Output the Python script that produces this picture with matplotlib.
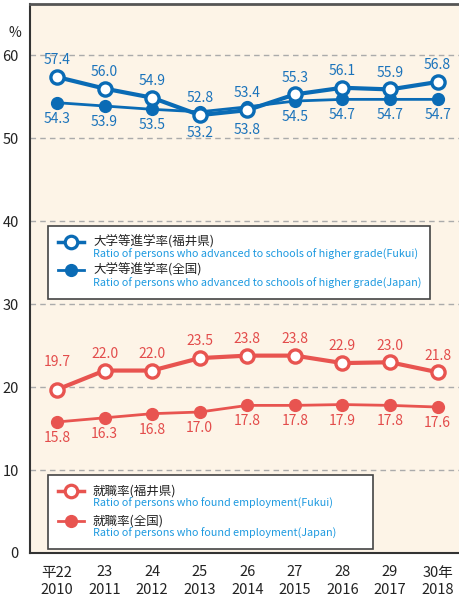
import matplotlib
matplotlib.use("Agg")
import matplotlib.pyplot as plt
from matplotlib.patches import Rectangle
from matplotlib.lines import Line2D

plt.rcParams['font.family'] = ['Noto Sans CJK JP', 'DejaVu Sans']

years_jp = ["平22", "23", "24", "25", "26", "27", "28", "29", "30年"]
years_ad = ["2010", "2011", "2012", "2013", "2014", "2015", "2016", "2017", "2018"]
univ_fukui = [57.4, 56.0, 54.9, 52.8, 53.4, 55.3, 56.1, 55.9, 56.8]
univ_japan = [54.3, 53.9, 53.5, 53.2, 53.8, 54.5, 54.7, 54.7, 54.7]
emp_fukui = [19.7, 22.0, 22.0, 23.5, 23.8, 23.8, 22.9, 23.0, 21.8]
emp_japan = [15.8, 16.3, 16.8, 17.0, 17.8, 17.8, 17.9, 17.8, 17.6]
legend1 = [("大学等進学率(福井県)", "Ratio of persons who advanced to schools of higher grade(Fukui)"),
           ("大学等進学率(全国)", "Ratio of persons who advanced to schools of higher grade(Japan)")]
legend2 = [("就職率(福井県)", "Ratio of persons who found employment(Fukui)"),
           ("就職率(全国)", "Ratio of persons who found employment(Japan)")]
yticks = [0, 10, 20, 30, 40, 50, 60]

# label offsets (points) – styling only
off_univ_fukui = [12] * 9
off_univ_japan = [-11.5, -11.5, -11.5, -15.5, -17, -11.5, -11.5, -11.5, -11.5]
off_emp_fukui = [20] + [12] * 8
off_emp_japan = [-11.5] * 9

BLUE = '#0a6bb5'
BLUE_T = '#1b73bb'
LBLUE = '#1e9ae0'
RED = '#e85450'
RED_T = '#e34c4b'
BG = '#fdf4e7'

W, H = 460, 599
fig = plt.figure(figsize=(W / 100, H / 100), dpi=100)
ax = fig.add_axes([30 / W, (H - 553) / H, 430 / W, 549 / H])
ax.set_facecolor(BG)
x = list(range(len(years_ad)))
ax.set_xlim(-0.567, 8.47)
ax.set_ylim(0, 66.2)

for y in yticks[1:]:
    ax.axhline(y, color='#ababab', lw=1.0, ls=(0, (4, 3)), zorder=1)

def series(vals, offs, color, tcolor, filled, lw, ms):
    ax.plot(x, vals, color=color, lw=lw, zorder=3,
            marker='o', ms=ms, mfc=color if filled else 'white',
            mec=color, mew=2.4 if not filled else 1, solid_joinstyle='round')
    for xi, v, o in zip(x, vals, offs):
        ax.annotate(f"{v:.1f}", (xi, v), xytext=(0, o),
                    textcoords='offset points', ha='center',
                    va='center', color=tcolor, fontsize=10, zorder=4)

series(univ_japan, off_univ_japan, BLUE, BLUE_T, True, 2.0, 8.5)
series(univ_fukui, off_univ_fukui, BLUE, BLUE_T, False, 3.0, 9.5)
series(emp_japan, off_emp_japan, RED, RED_T, True, 2.0, 8.5)
series(emp_fukui, off_emp_fukui, RED, RED_T, False, 3.0, 9.5)

ax.set_yticks(yticks)
ax.set_yticklabels([str(v) for v in yticks], fontsize=10.5, color='#222222')
ax.tick_params(axis='y', length=0, pad=8)
ax.set_xticks(x)
ax.set_xticklabels([f"{a}\n{b}" for a, b in zip(years_jp, years_ad)],
                   fontsize=10.5, color='#222222', linespacing=1.3)
ax.tick_params(axis='x', length=0, pad=9)

ax.spines['right'].set_visible(False)
ax.spines['top'].set_color('#555555')
ax.spines['top'].set_linewidth(2)
ax.spines['left'].set_color('#333333')
ax.spines['left'].set_linewidth(1.5)
ax.spines['bottom'].set_color('#333333')
ax.spines['bottom'].set_linewidth(1.5)

fig.text(15 / W, 1 - 33 / H, "%", fontsize=10, ha='center', va='center', color='#222222')

def legend(box, entries, color, rows):
    x0, y0, x1, y1 = box
    fig.patches.append(Rectangle((x0 / W, 1 - y1 / H), (x1 - x0) / W, (y1 - y0) / H,
                                 transform=fig.transFigure, facecolor='white',
                                 edgecolor='#444444', lw=1.2, zorder=5))
    for (jp, en), (yj, ye), filled in zip(entries, rows, [False, True]):
        fig.lines.append(Line2D([58 / W, 84 / W], [1 - yj / H] * 2, transform=fig.transFigure,
                                color=color, lw=2.5 if not filled else 2, zorder=6))
        fig.lines.append(Line2D([71 / W], [1 - yj / H], transform=fig.transFigure,
                                marker='o', ms=9 if not filled else 8.5,
                                mfc='white' if not filled else color, mec=color,
                                mew=2.3 if not filled else 1, color=color, zorder=7))
        fig.text(93 / W, 1 - yj / H, jp, fontsize=9, va='center', ha='left',
                 color='#222222', zorder=7)
        fig.text(93 / W, 1 - ye / H, en, fontsize=7.8, va='center', ha='left',
                 color=LBLUE, zorder=7)

legend((48, 226, 430, 299), legend1, BLUE, [(242, 254), (270, 283)])
legend((48, 475, 373, 549), legend2, RED, [(491, 503), (521, 533)])

fig.savefig("out.png", dpi=100)
